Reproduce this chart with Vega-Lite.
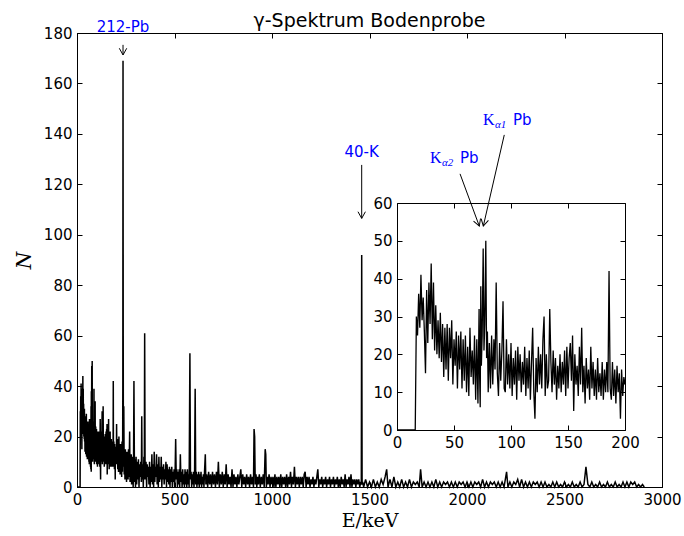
{
"$schema":"https://vega.github.io/schema/vega-lite/v6.json",
"width":585,"height":454,
"autosize":{"type":"none"},
"padding":{"left":77,"top":33,"right":22,"bottom":49},
"background":"white",
"config":{"view":{"stroke":"black","strokeWidth":1},
"axis":{"domainColor":"black","tickColor":"black","labelColor":"black","labelFont":"DejaVu Sans","labelFontSize":15,"grid":false,"tickSize":-5,"labelPadding":10,"labelFlush":false,"labelOverlap":false,"domainWidth":1,"tickWidth":1,"titleColor":"black","titleFontWeight":"normal","format":"d"}},
"datasets":{"spec":[
{"E":0,"N":0},{"E":16,"N":0},{"E":17,"N":30},{"E":18,"N":25},{"E":19,"N":36},{"E":20,"N":27},{"E":21,"N":41},{"E":22,"N":29},{"E":23,"N":35},{"E":24,"N":26},{"E":25,"N":15},{"E":26,"N":37},{"E":27,"N":23},{"E":28,"N":39},{"E":29,"N":28},{"E":30,"N":44},{"E":31,"N":24},{"E":32,"N":39},{"E":33,"N":21},{"E":34,"N":33},{"E":35,"N":20},{"E":36,"N":29},{"E":37,"N":19},{"E":38,"N":31},{"E":39,"N":18},{"E":40,"N":28},{"E":41,"N":14},{"E":42,"N":27},{"E":43,"N":16},{"E":44,"N":28},{"E":45,"N":13},{"E":46,"N":27},{"E":47,"N":19},{"E":48,"N":29},{"E":49,"N":12},{"E":50,"N":24},{"E":51,"N":17},{"E":52,"N":26},{"E":53,"N":11},{"E":54,"N":25},{"E":55,"N":16},{"E":56,"N":26},{"E":57,"N":11},{"E":58,"N":24},{"E":59,"N":13},{"E":60,"N":25},{"E":61,"N":10},{"E":62,"N":22},{"E":63,"N":9},{"E":64,"N":27},{"E":65,"N":14},{"E":66,"N":21},{"E":67,"N":12},{"E":68,"N":25},{"E":69,"N":8},{"E":70,"N":24},{"E":71,"N":7},{"E":72,"N":32},{"E":72.5,"N":14},{"E":73,"N":6},{"E":73.5,"N":38},{"E":74,"N":17},{"E":74.7,"N":25},{"E":75.6,"N":48},{"E":76.3,"N":21},{"E":77,"N":28},{"E":77.9,"N":50},{"E":78.6,"N":19},{"E":79.3,"N":26},{"E":80,"N":10},{"E":81,"N":23},{"E":82,"N":11},{"E":83,"N":25},{"E":84,"N":12},{"E":85,"N":24},{"E":86,"N":16},{"E":87,"N":39},{"E":88,"N":15},{"E":89,"N":9},{"E":90,"N":23},{"E":91,"N":13},{"E":92,"N":21},{"E":93,"N":34},{"E":94,"N":11},{"E":95,"N":10},{"E":96,"N":24},{"E":97,"N":12},{"E":98,"N":20},{"E":99,"N":11},{"E":100,"N":23},{"E":101,"N":9},{"E":102,"N":19},{"E":103,"N":12},{"E":104,"N":21},{"E":105,"N":8},{"E":106,"N":22},{"E":107,"N":13},{"E":108,"N":20},{"E":109,"N":10},{"E":110,"N":18},{"E":111,"N":12},{"E":112,"N":22},{"E":113,"N":9},{"E":114,"N":19},{"E":115,"N":11},{"E":116,"N":21},{"E":117,"N":8},{"E":118,"N":18},{"E":119,"N":27},{"E":120,"N":10},{"E":121,"N":3},{"E":122,"N":19},{"E":123,"N":10},{"E":124,"N":22},{"E":125,"N":12},{"E":126,"N":20},{"E":127,"N":11},{"E":128,"N":24},{"E":129,"N":30},{"E":130,"N":9},{"E":131,"N":20},{"E":132,"N":11},{"E":133,"N":13},{"E":134,"N":32},{"E":135,"N":18},{"E":136,"N":10},{"E":137,"N":21},{"E":138,"N":12},{"E":139,"N":19},{"E":140,"N":8},{"E":141,"N":17},{"E":142,"N":11},{"E":143,"N":20},{"E":144,"N":10},{"E":145,"N":18},{"E":146,"N":12},{"E":147,"N":21},{"E":148,"N":9},{"E":149,"N":22},{"E":150,"N":11},{"E":151,"N":19},{"E":152,"N":23},{"E":153,"N":13},{"E":154,"N":25},{"E":155,"N":5},{"E":156,"N":20},{"E":157,"N":12},{"E":158,"N":17},{"E":159,"N":9},{"E":160,"N":22},{"E":161,"N":12},{"E":162,"N":27},{"E":163,"N":10},{"E":164,"N":17},{"E":165,"N":7},{"E":166,"N":19},{"E":167,"N":11},{"E":168,"N":16},{"E":169,"N":8},{"E":170,"N":22},{"E":171,"N":11},{"E":172,"N":18},{"E":173,"N":9},{"E":174,"N":16},{"E":175,"N":8},{"E":176,"N":19},{"E":177,"N":10},{"E":178,"N":15},{"E":179,"N":9},{"E":180,"N":18},{"E":181,"N":8},{"E":182,"N":16},{"E":183,"N":10},{"E":184,"N":18},{"E":185,"N":10},{"E":186,"N":42},{"E":187,"N":11},{"E":188,"N":8},{"E":189,"N":18},{"E":190,"N":9},{"E":191,"N":16},{"E":192,"N":7},{"E":193,"N":17},{"E":194,"N":10},{"E":195,"N":15},{"E":196,"N":3},{"E":197,"N":16},{"E":198,"N":9},{"E":199,"N":14},{"E":200,"N":12},
{"E":202,"N":11},{"E":203,"N":25},{"E":205,"N":9},{"E":207,"N":19},{"E":209,"N":7},{"E":211,"N":18},{"E":213,"N":6},{"E":215,"N":20},{"E":217,"N":8},{"E":219,"N":16},{"E":221,"N":5},{"E":223,"N":17},{"E":225,"N":7},{"E":227,"N":15},{"E":229,"N":4},{"E":231,"N":18},{"E":233,"N":6},{"E":234,"N":14},{"E":235,"N":40},{"E":236,"N":169},{"E":237,"N":60},{"E":238,"N":8},{"E":240,"N":32},{"E":242,"N":5},{"E":244,"N":14},{"E":246,"N":3},{"E":248,"N":15},{"E":250,"N":6},{"E":252,"N":13},{"E":254,"N":2},{"E":256,"N":14},{"E":258,"N":5},{"E":260,"N":12},{"E":262,"N":3},{"E":264,"N":15},{"E":266,"N":4},{"E":268,"N":11},{"E":270,"N":22},{"E":272,"N":2},{"E":274,"N":12},{"E":276,"N":4},{"E":278,"N":13},{"E":280,"N":1},{"E":282,"N":11},{"E":284,"N":3},{"E":286,"N":12},{"E":288,"N":0},{"E":290,"N":10},{"E":292,"N":42},{"E":294,"N":13},{"E":296,"N":2},{"E":298,"N":11},{"E":300,"N":0},{"E":303,"N":12},{"E":306,"N":1},{"E":309,"N":10},{"E":312,"N":3},{"E":315,"N":11},{"E":318,"N":0},{"E":321,"N":9},{"E":324,"N":4},{"E":327,"N":10},{"E":330,"N":2},{"E":332,"N":28},{"E":334,"N":3},{"E":337,"N":9},{"E":340,"N":0},{"E":343,"N":12},{"E":345,"N":3},{"E":347,"N":61},{"E":349,"N":10},{"E":351,"N":3},{"E":354,"N":10},{"E":357,"N":0},{"E":360,"N":9},{"E":363,"N":4},{"E":366,"N":8},{"E":369,"N":1},{"E":372,"N":10},{"E":375,"N":0},{"E":378,"N":8},{"E":381,"N":2},{"E":384,"N":13},{"E":387,"N":1},{"E":390,"N":9},{"E":393,"N":0},{"E":396,"N":14},{"E":399,"N":2},{"E":402,"N":8},{"E":405,"N":4},{"E":408,"N":13},{"E":411,"N":1},{"E":414,"N":9},{"E":417,"N":0},{"E":420,"N":12},{"E":423,"N":2},{"E":426,"N":8},{"E":429,"N":3},{"E":432,"N":12},{"E":435,"N":0},{"E":438,"N":8},{"E":441,"N":3},{"E":444,"N":9},{"E":447,"N":1},{"E":450,"N":7},{"E":453,"N":3},{"E":456,"N":10},{"E":459,"N":0},{"E":462,"N":9},{"E":465,"N":2},{"E":468,"N":7},{"E":471,"N":1},{"E":474,"N":8},{"E":477,"N":0},{"E":480,"N":7},{"E":483,"N":2},{"E":486,"N":8},{"E":489,"N":0},{"E":492,"N":6},{"E":495,"N":2},{"E":498,"N":7},{"E":501,"N":0},{"E":503,"N":5},{"E":506,"N":19},{"E":509,"N":3},{"E":512,"N":7},{"E":515,"N":0},{"E":518,"N":6},{"E":521,"N":1},{"E":524,"N":7},{"E":527,"N":0},{"E":530,"N":13},{"E":533,"N":2},{"E":536,"N":6},{"E":539,"N":0},{"E":542,"N":7},{"E":545,"N":1},{"E":548,"N":5},{"E":551,"N":0},{"E":554,"N":7},{"E":557,"N":1},{"E":560,"N":6},{"E":563,"N":0},{"E":566,"N":7},{"E":569,"N":1},{"E":572,"N":5},{"E":575,"N":0},{"E":579,"N":53},{"E":582,"N":3},{"E":585,"N":6},{"E":588,"N":0},{"E":591,"N":5},{"E":594,"N":1},{"E":597,"N":6},{"E":600,"N":0},{"E":603,"N":5},{"E":606,"N":39},{"E":609,"N":1},{"E":612,"N":6},{"E":615,"N":0},{"E":618,"N":5},{"E":621,"N":1},{"E":624,"N":6},{"E":627,"N":0},{"E":630,"N":5},{"E":633,"N":1},{"E":636,"N":6},{"E":639,"N":0},{"E":642,"N":4},{"E":645,"N":1},{"E":648,"N":5},{"E":651,"N":0},{"E":654,"N":6},{"E":658,"N":13},{"E":661,"N":1},{"E":665,"N":5},{"E":670,"N":0},{"E":675,"N":6},{"E":680,"N":1},{"E":685,"N":5},{"E":690,"N":0},{"E":695,"N":6},{"E":700,"N":1},{"E":705,"N":5},{"E":710,"N":0},{"E":715,"N":6},{"E":720,"N":1},{"E":725,"N":10},{"E":730,"N":0},{"E":735,"N":5},{"E":740,"N":1},{"E":745,"N":6},{"E":750,"N":0},{"E":755,"N":5},{"E":760,"N":1},{"E":765,"N":9},{"E":770,"N":0},{"E":775,"N":5},{"E":780,"N":1},{"E":785,"N":4},{"E":790,"N":0},{"E":795,"N":7},{"E":800,"N":0},{"E":805,"N":5},{"E":810,"N":1},{"E":815,"N":4},{"E":820,"N":0},{"E":825,"N":5},{"E":830,"N":1},{"E":835,"N":4},{"E":840,"N":7},{"E":845,"N":0},{"E":850,"N":5},{"E":855,"N":1},{"E":860,"N":4},{"E":865,"N":0},{"E":870,"N":5},{"E":875,"N":1},{"E":880,"N":4},{"E":885,"N":0},{"E":890,"N":5},{"E":895,"N":1},{"E":900,"N":4},{"E":905,"N":0},{"E":908,"N":23},{"E":911,"N":20},{"E":914,"N":1},{"E":918,"N":5},{"E":922,"N":0},{"E":926,"N":4},{"E":930,"N":1},{"E":935,"N":5},{"E":940,"N":0},{"E":945,"N":4},{"E":950,"N":1},{"E":955,"N":5},{"E":960,"N":0},{"E":965,"N":15},{"E":968,"N":13},{"E":971,"N":0},{"E":975,"N":4},{"E":980,"N":1},{"E":985,"N":5},{"E":990,"N":0},{"E":995,"N":4},{"E":1000,"N":1},{"E":1005,"N":4},{"E":1010,"N":0},{"E":1015,"N":5},{"E":1020,"N":0},{"E":1025,"N":4},{"E":1030,"N":1},{"E":1035,"N":4},{"E":1040,"N":0},{"E":1045,"N":5},{"E":1050,"N":0},{"E":1055,"N":4},{"E":1060,"N":1},{"E":1065,"N":4},{"E":1070,"N":0},{"E":1075,"N":5},{"E":1080,"N":0},{"E":1085,"N":4},{"E":1090,"N":1},{"E":1095,"N":6},{"E":1100,"N":0},{"E":1105,"N":4},{"E":1110,"N":1},{"E":1115,"N":8},{"E":1120,"N":0},{"E":1125,"N":4},{"E":1130,"N":1},{"E":1135,"N":4},{"E":1140,"N":0},{"E":1145,"N":4},{"E":1150,"N":1},{"E":1155,"N":4},{"E":1160,"N":0},{"E":1165,"N":5},{"E":1170,"N":6},{"E":1175,"N":0},{"E":1180,"N":4},{"E":1185,"N":1},{"E":1190,"N":4},{"E":1195,"N":0},{"E":1200,"N":3},{"E":1205,"N":1},{"E":1210,"N":4},{"E":1215,"N":0},{"E":1220,"N":3},{"E":1225,"N":1},{"E":1230,"N":4},{"E":1235,"N":7},{"E":1240,"N":0},{"E":1245,"N":3},{"E":1250,"N":1},{"E":1255,"N":4},{"E":1260,"N":0},{"E":1265,"N":3},{"E":1270,"N":1},{"E":1275,"N":4},{"E":1280,"N":0},{"E":1285,"N":3},{"E":1290,"N":1},{"E":1295,"N":4},{"E":1300,"N":0},{"E":1305,"N":3},{"E":1310,"N":1},{"E":1315,"N":4},{"E":1320,"N":0},{"E":1325,"N":3},{"E":1330,"N":1},{"E":1335,"N":4},{"E":1340,"N":0},{"E":1345,"N":3},{"E":1350,"N":0},{"E":1355,"N":4},{"E":1360,"N":1},{"E":1365,"N":3},{"E":1370,"N":0},{"E":1375,"N":5},{"E":1380,"N":0},{"E":1385,"N":3},{"E":1390,"N":1},{"E":1395,"N":4},{"E":1400,"N":0},{"E":1405,"N":5},{"E":1410,"N":0},{"E":1415,"N":3},{"E":1420,"N":1},{"E":1425,"N":3},{"E":1430,"N":0},{"E":1435,"N":3},{"E":1440,"N":1},{"E":1445,"N":3},{"E":1450,"N":0},{"E":1455,"N":2},{"E":1458,"N":1},{"E":1460,"N":92},{"E":1462,"N":1},{"E":1465,"N":2},{"E":1470,"N":0},{"E":1480,"N":3},{"E":1490,"N":0},{"E":1500,"N":2},{"E":1510,"N":0},{"E":1520,"N":3},{"E":1530,"N":0},{"E":1540,"N":2},{"E":1550,"N":0},{"E":1560,"N":3},{"E":1570,"N":1},{"E":1580,"N":4},{"E":1588,"N":7},{"E":1595,"N":0},{"E":1605,"N":3},{"E":1615,"N":0},{"E":1625,"N":4},{"E":1635,"N":0},{"E":1645,"N":2},{"E":1655,"N":0},{"E":1665,"N":3},{"E":1675,"N":0},{"E":1685,"N":2},{"E":1695,"N":0},{"E":1705,"N":3},{"E":1715,"N":0},{"E":1725,"N":2},{"E":1735,"N":1},{"E":1745,"N":2},{"E":1755,"N":0},{"E":1762,"N":7},{"E":1770,"N":0},{"E":1780,"N":2},{"E":1790,"N":0},{"E":1800,"N":2},{"E":1810,"N":0},{"E":1820,"N":2},{"E":1830,"N":0},{"E":1840,"N":3},{"E":1850,"N":0},{"E":1860,"N":2},{"E":1870,"N":0},{"E":1880,"N":2},{"E":1890,"N":1},{"E":1900,"N":2},{"E":1910,"N":0},{"E":1920,"N":2},{"E":1930,"N":0},{"E":1940,"N":2},{"E":1950,"N":0},{"E":1960,"N":2},{"E":1970,"N":1},{"E":1980,"N":2},{"E":1990,"N":0},{"E":2000,"N":2},{"E":2010,"N":0},{"E":2020,"N":2},{"E":2030,"N":0},{"E":2040,"N":2},{"E":2050,"N":1},{"E":2060,"N":2},{"E":2070,"N":0},{"E":2080,"N":3},{"E":2090,"N":0},{"E":2100,"N":2},{"E":2110,"N":0},{"E":2120,"N":2},{"E":2130,"N":1},{"E":2140,"N":2},{"E":2150,"N":0},{"E":2160,"N":2},{"E":2170,"N":0},{"E":2180,"N":2},{"E":2190,"N":0},{"E":2203,"N":6},{"E":2210,"N":0},{"E":2220,"N":2},{"E":2230,"N":0},{"E":2240,"N":2},{"E":2250,"N":1},{"E":2260,"N":3},{"E":2270,"N":0},{"E":2280,"N":3},{"E":2290,"N":0},{"E":2300,"N":2},{"E":2310,"N":0},{"E":2320,"N":2},{"E":2330,"N":0},{"E":2340,"N":2},{"E":2350,"N":1},{"E":2360,"N":2},{"E":2370,"N":0},{"E":2380,"N":2},{"E":2390,"N":0},{"E":2400,"N":2},{"E":2410,"N":0},{"E":2420,"N":1},{"E":2430,"N":0},{"E":2440,"N":2},{"E":2450,"N":0},{"E":2460,"N":2},{"E":2470,"N":0},{"E":2480,"N":1},{"E":2490,"N":0},{"E":2500,"N":2},{"E":2510,"N":0},{"E":2520,"N":1},{"E":2530,"N":0},{"E":2540,"N":2},{"E":2550,"N":0},{"E":2560,"N":1},{"E":2570,"N":0},{"E":2580,"N":2},{"E":2590,"N":0},{"E":2600,"N":1},{"E":2610,"N":8},{"E":2620,"N":1},{"E":2630,"N":0},{"E":2640,"N":2},{"E":2650,"N":0},{"E":2660,"N":1},{"E":2670,"N":0},{"E":2680,"N":2},{"E":2690,"N":0},{"E":2700,"N":1},{"E":2710,"N":0},{"E":2720,"N":2},{"E":2730,"N":0},{"E":2740,"N":1},{"E":2750,"N":0},{"E":2760,"N":2},{"E":2770,"N":0},{"E":2780,"N":1},{"E":2790,"N":0},{"E":2800,"N":2},{"E":2810,"N":0},{"E":2820,"N":2},{"E":2830,"N":0},{"E":2840,"N":2},{"E":2850,"N":1},{"E":2860,"N":2},{"E":2870,"N":0},{"E":2880,"N":1},{"E":2890,"N":0},{"E":2900,"N":1},{"E":2909,"N":0}
],
"mainlab":[{"lab":"212-Pb","E":236,"Nt":180.4,"N0":175.3,"N1":171.3},{"lab":"40-K","E":1460,"Nt":131,"N0":127.7,"N1":106.5}],
"insetlab":[{"lab":"a1","sub":"α1","E":75.4,"N":80.6,"E0":94.1,"N0":78,"E1":75.7,"N1":53.9},{"lab":"a2","sub":"α2","E":28.9,"N":70.5,"E0":55.3,"N0":67.7,"E1":72.2,"N1":53.9}],
"titlerow":[{"title":"γ-Spektrum Bodenprobe","E":1500,"N":182.4}]
},
"layer":[
{"data":{"name":"spec"},"mark":{"type":"line","color":"black","strokeWidth":1.5},
 "encoding":{
  "x":{"field":"E","type":"quantitative","scale":{"domain":[0,3000],"nice":false,"zero":false},"axis":{"orient":"bottom","values":[0,500,1000,1500,2000,2500,3000],"title":"E/keV","titleFont":"DejaVu Serif","titleFontSize":19,"titlePadding":4}},
  "y":{"field":"N","type":"quantitative","scale":{"domain":[0,180],"nice":false,"zero":false},"axis":{"orient":"left","values":[0,20,40,60,80,100,120,140,160,180],"title":"N","titleFont":"DejaVu Serif","titleFontStyle":"italic","titleFontSize":20,"titlePadding":9}}}},
{"data":{"name":"mainlab"},"mark":{"type":"point","opacity":0},
 "encoding":{
  "x":{"field":"E","type":"quantitative","scale":{"domain":[0,3000],"nice":false,"zero":false},"axis":{"orient":"top","values":[0,500,1000,1500,2000,2500,3000],"labels":false,"title":null}},
  "y":{"field":"N1","type":"quantitative","scale":{"domain":[0,180],"nice":false,"zero":false},"axis":{"orient":"right","values":[0,20,40,60,80,100,120,140,160,180],"labels":false,"title":null}}}},
{"data":{"name":"spec"},"transform":[{"filter":"datum.E <= 200"}],"mark":{"type":"line","color":"black","strokeWidth":1.3},
 "encoding":{
  "x":{"field":"E","type":"quantitative","scale":{"domain":[0,200],"range":[320,548],"nice":false,"zero":false},"axis":{"orient":"bottom","offset":-57,"values":[0,50,100,150,200],"title":null}},
  "y":{"field":"N","type":"quantitative","scale":{"domain":[0,60],"range":[397,170],"nice":false,"zero":false},"axis":{"orient":"left","offset":-320,"values":[0,10,20,30,40,50,60],"title":null}}}},
{"data":{"name":"insetlab"},"mark":{"type":"point","opacity":0},
 "encoding":{
  "x":{"field":"E1","type":"quantitative","scale":{"domain":[0,200],"range":[320,548],"nice":false,"zero":false},"axis":{"orient":"top","offset":-170,"values":[0,50,100,150,200],"labels":false,"title":null}},
  "y":{"field":"N1","type":"quantitative","scale":{"domain":[0,60],"range":[397,170],"nice":false,"zero":false},"axis":{"orient":"right","offset":-37,"values":[0,10,20,30,40,50,60],"labels":false,"title":null}}}},
{"data":{"name":"mainlab"},"mark":{"type":"rule","color":"black","strokeWidth":1},
 "encoding":{
  "x":{"field":"E","type":"quantitative","scale":{"domain":[0,3000],"nice":false,"zero":false},"axis":null},
  "y":{"field":"N0","type":"quantitative","scale":{"domain":[0,180],"nice":false,"zero":false},"axis":null},
  "y2":{"field":"N1"}}},
{"data":{"name":"mainlab"},"mark":{"type":"point","shape":"M-1,-1.8L0,0L1,-1.8","size":55,"filled":false,"color":"black","opacity":1,"strokeWidth":1},
 "encoding":{
  "x":{"field":"E","type":"quantitative","scale":{"domain":[0,3000],"nice":false,"zero":false},"axis":null},
  "y":{"field":"N1","type":"quantitative","scale":{"domain":[0,180],"nice":false,"zero":false},"axis":null}}},
{"data":{"name":"mainlab"},"mark":{"type":"text","color":"#0000ff","font":"DejaVu Sans","fontSize":15,"align":"center","baseline":"alphabetic"},
 "encoding":{
  "x":{"field":"E","type":"quantitative","scale":{"domain":[0,3000],"nice":false,"zero":false},"axis":null},
  "y":{"field":"Nt","type":"quantitative","scale":{"domain":[0,180],"nice":false,"zero":false},"axis":null},
  "text":{"field":"lab"}}},
{"data":{"name":"titlerow"},"mark":{"type":"text","color":"black","font":"DejaVu Sans","fontSize":19,"align":"center","baseline":"alphabetic"},
 "encoding":{
  "x":{"field":"E","type":"quantitative","scale":{"domain":[0,3000],"nice":false,"zero":false},"axis":null},
  "y":{"field":"N","type":"quantitative","scale":{"domain":[0,180],"nice":false,"zero":false},"axis":null},
  "text":{"field":"title"}}},
{"data":{"name":"insetlab"},"mark":{"type":"rule","color":"black","strokeWidth":1},
 "encoding":{
  "x":{"field":"E0","type":"quantitative","scale":{"domain":[0,200],"range":[320,548],"nice":false,"zero":false},"axis":null},
  "y":{"field":"N0","type":"quantitative","scale":{"domain":[0,60],"range":[397,170],"nice":false,"zero":false},"axis":null},
  "x2":{"field":"E1"},"y2":{"field":"N1"}}},
{"data":{"name":"insetlab"},"transform":[{"filter":"datum.lab == 'a1'"}],"mark":{"type":"point","shape":"M-1,-1.8L0,0L1,-1.8","size":55,"filled":false,"color":"black","opacity":1,"strokeWidth":1,"angle":13},
 "encoding":{
  "x":{"field":"E1","type":"quantitative","scale":{"domain":[0,200],"range":[320,548],"nice":false,"zero":false},"axis":null},
  "y":{"field":"N1","type":"quantitative","scale":{"domain":[0,60],"range":[397,170],"nice":false,"zero":false},"axis":null}}},
{"data":{"name":"insetlab"},"transform":[{"filter":"datum.lab == 'a2'"}],"mark":{"type":"point","shape":"M-1,-1.8L0,0L1,-1.8","size":55,"filled":false,"color":"black","opacity":1,"strokeWidth":1,"angle":-20},
 "encoding":{
  "x":{"field":"E1","type":"quantitative","scale":{"domain":[0,200],"range":[320,548],"nice":false,"zero":false},"axis":null},
  "y":{"field":"N1","type":"quantitative","scale":{"domain":[0,60],"range":[397,170],"nice":false,"zero":false},"axis":null}}},
{"data":{"name":"insetlab"},"mark":{"type":"text","text":"K","color":"#0000ff","font":"Liberation Serif","fontSize":16,"align":"left","baseline":"alphabetic"},
 "encoding":{
  "x":{"field":"E","type":"quantitative","scale":{"domain":[0,200],"range":[320,548],"nice":false,"zero":false},"axis":null},
  "y":{"field":"N","type":"quantitative","scale":{"domain":[0,60],"range":[397,170],"nice":false,"zero":false},"axis":null}}},
{"data":{"name":"insetlab"},"mark":{"type":"text","color":"#0000ff","font":"Liberation Serif","fontStyle":"italic","fontSize":11,"align":"left","baseline":"alphabetic","dx":12,"dy":3},
 "encoding":{
  "x":{"field":"E","type":"quantitative","scale":{"domain":[0,200],"range":[320,548],"nice":false,"zero":false},"axis":null},
  "y":{"field":"N","type":"quantitative","scale":{"domain":[0,60],"range":[397,170],"nice":false,"zero":false},"axis":null},
  "text":{"field":"sub"}}},
{"data":{"name":"insetlab"},"mark":{"type":"text","text":"Pb","color":"#0000ff","font":"DejaVu Sans","fontSize":15,"align":"left","baseline":"alphabetic","dx":30},
 "encoding":{
  "x":{"field":"E","type":"quantitative","scale":{"domain":[0,200],"range":[320,548],"nice":false,"zero":false},"axis":null},
  "y":{"field":"N","type":"quantitative","scale":{"domain":[0,60],"range":[397,170],"nice":false,"zero":false},"axis":null}}}
],
"resolve":{"scale":{"x":"independent","y":"independent"},"axis":{"x":"independent","y":"independent"}}
}
